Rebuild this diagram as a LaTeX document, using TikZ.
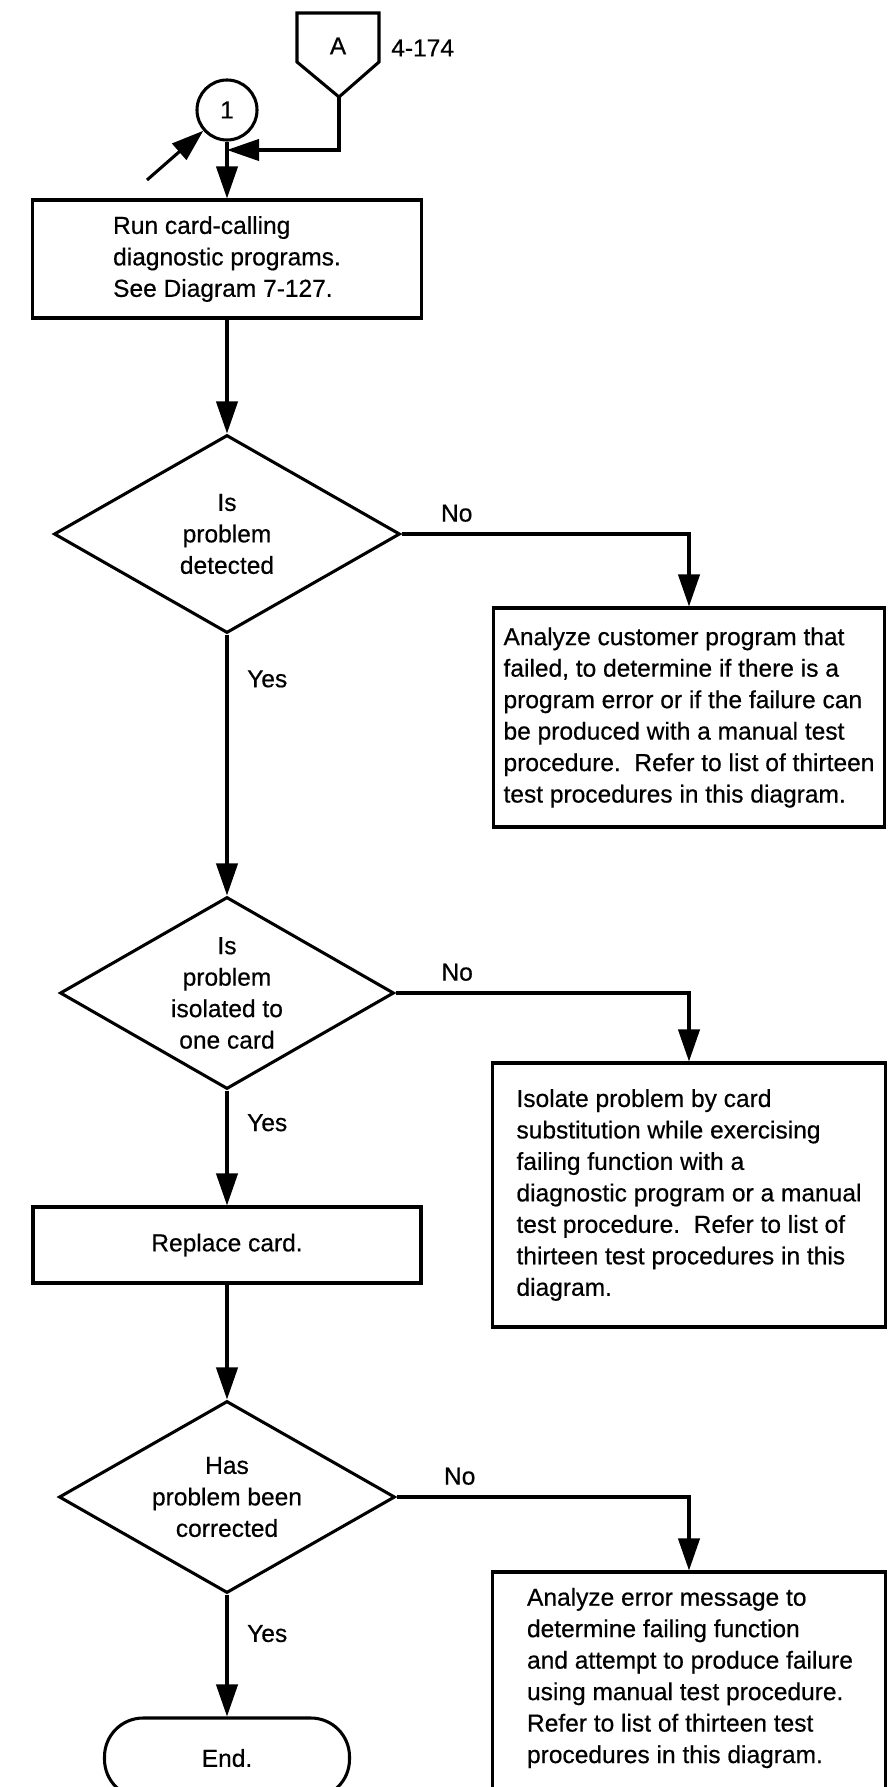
\documentclass[tikz,border=0pt]{standalone}
\usepackage{fontspec}
\setmainfont{Liberation Sans}[FakeBold=0.5]
\usetikzlibrary{arrows.meta,shapes.geometric}
\begin{document}
\begin{tikzpicture}[x=0.75pt,y=-0.75pt,
  every node/.style={font=\fontsize{18.4}{23.6}\selectfont},
  flow/.style={line width=2.3pt},
  arr/.style={flow,-{Triangle[length=24pt,width=16pt]}},
  procbox/.style={draw,line width=2.3pt,rectangle,align=left,inner sep=0pt},
  decision/.style={draw,line width=2.3pt,diamond,inner sep=0pt},
  lbl/.style={inner sep=0pt}
]
\clip (0,0) rectangle (888,1787);

% off-page connector A
\draw[flow] (297,13) -- (379,13) -- (379,62) -- (339,97) -- (297,62) -- cycle;
\coordinate (Atip) at (339,97);
\node[lbl] (A) at (338,46) {A};
\node[lbl,anchor=west] (Aref) at (391,48) {4-174};

% entry point 1
\node[draw,circle,line width=2.3pt,minimum size=45pt,inner sep=0pt] (c1) at (227,110) {1};
\coordinate (in1) at (147,180);
\coordinate (j1) at (227,150);

% main column
\node[procbox,minimum width=291.75pt,minimum height=88.5pt] (b1) at (227,259)
  {Run card-calling\\diagnostic programs.\\See Diagram 7-127.};
\node[decision,minimum width=259.5pt,minimum height=148.5pt,
  label={[lbl,align=center]center:Is\\problem\\detected}] (d1) at (227,534) {};
\node[decision,minimum width=250.5pt,minimum height=144pt,
  label={[lbl,align=center]center:Is\\problem\\isolated to\\one card}] (d2) at (227,993) {};
\node[procbox,align=center,minimum width=291pt,minimum height=57pt] (rep) at (227,1245) {Replace card.};
\node[decision,minimum width=252pt,minimum height=144pt,
  label={[lbl,align=center]center:Has\\problem been\\corrected}] (d3) at (227,1497) {};
\node[draw,line width=2.3pt,rectangle,rounded corners=29pt,minimum width=183.75pt,minimum height=60pt] (term) at (227,1758) {End.};

% right column
\node[procbox,minimum width=293.25pt,minimum height=164.25pt] (b2) at (689,717.5)
  {Analyze customer program that\\failed, to determine if there is a\\program error or if the failure can\\be produced with a manual test\\procedure.\ \ Refer to list of thirteen\\test procedures in this diagram.};
\node[procbox,minimum width=294.75pt,minimum height=198pt] (b3) at (689,1195)
  {Isolate problem by card\\substitution while exercising\\failing function with a\\diagnostic program or a manual\\test procedure.\ \ Refer to list of\\thirteen test procedures in this\\diagram.};
\node[procbox,minimum width=294.75pt,minimum height=178.5pt] (b4) at (689,1691) {};
\node[lbl,align=left] (t4) at (690,1678)
  {Analyze error message to\\determine failing function\\and attempt to produce failure\\using manual test procedure.\\Refer to list of thirteen test\\procedures in this diagram.};

% connectors
\draw[arr] (Atip) |- (j1);
\draw[arr] (in1) -- (c1);
\draw[arr] (c1.south) -- (b1.north);
\draw[arr] (b1.south) -- (d1.north);
\draw[arr] (d1.south) -- node[lbl,right=14pt,pos=0.17] (y1) {Yes} (d2.north);
\draw[arr] (d1.east) -| node[lbl,above=8pt,pos=0.096] (n1) {No} (b2.north);
\draw[arr] (d2.south) -- node[lbl,right=14pt,pos=0.28] (y2) {Yes} (rep.north);
\draw[arr] (d2.east) -| node[lbl,above=8pt,pos=0.105] (n2) {No} (b3.north);
\draw[arr] (rep.south) -- (d3.north);
\draw[arr] (d3.east) -| node[lbl,above=8pt,pos=0.108] (n3) {No} (b4.north);
\draw[arr] (d3.south) -- node[lbl,right=14pt,pos=0.32] (y3) {Yes} (term.north);
\end{tikzpicture}
\end{document}
